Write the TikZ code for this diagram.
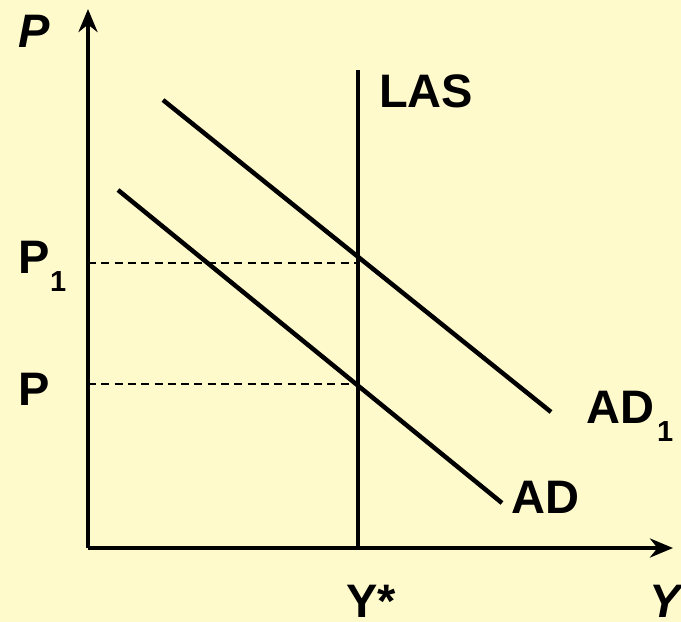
\documentclass[tikz,border=0pt]{standalone}
\usepackage{fontspec}
\setmainfont{Liberation Sans}
\usetikzlibrary{arrows.meta}
\definecolor{paper}{RGB}{255,250,204}

\begin{document}
\begin{tikzpicture}[x=1pt, y=-1pt,
    axis/.style={line width=4.5pt, -{Stealth[length=23pt, width=19pt]}},
    curve/.style={line width=4.5pt},
    guide/.style={line width=2.2pt, dash pattern=on 8pt off 5.3pt},
    lbl/.style={inner sep=0pt, anchor=base west, font=\fontsize{47}{50}\selectfont\bfseries},
    sub/.style={inner sep=0pt, anchor=base west, font=\fontsize{29}{32}\selectfont\bfseries}]
  \fill[paper] (0,0) rectangle (681,622);

  % axes
  \coordinate (O) at (88,548);
  \coordinate (ytop) at (88,9);
  \coordinate (xend) at (673,548);
  \draw[axis] (O) -- (ytop);
  \draw[axis] (O) -- (xend);

  % long-run supply
  \coordinate (lasTop) at (358,70);
  \coordinate (lasBot) at (358,548);
  \draw[curve] (lasBot) -- (lasTop);

  % demand curves
  \coordinate (ad0a) at (118,190);
  \coordinate (ad0b) at (502,503);
  \coordinate (ad1a) at (163,100);
  \coordinate (ad1b) at (551,412);
  \draw[curve] (ad0a) -- (ad0b);
  \draw[curve] (ad1a) -- (ad1b);

  % price levels
  \coordinate (p1y) at (88,263);
  \coordinate (p1x) at (358,263);
  \coordinate (p0y) at (88,384);
  \coordinate (p0x) at (358,384);
  \draw[guide] (p1y) -- (p1x);
  \draw[guide] (p0y) -- (p0x);

  % labels
  \node[lbl, font=\fontsize{47}{50}\selectfont\bfseries\itshape] (lP) at (18,47) {P};
  \node[lbl, font=\fontsize{47}{50}\selectfont\bfseries\itshape] (lY) at (649,617) {Y};
  \node[lbl] (lLAS) at (379,107) {LAS};
  \node[lbl] (lP1) at (18,273) {P};
  \node[sub] (lP1s) at (50,291) {1};
  \node[lbl] (lP0) at (18,405) {P};
  \node[lbl] (lAD1) at (586,423) {AD};
  \node[sub] (lAD1s) at (657,441) {1};
  \node[lbl] (lAD) at (511,513) {AD};
  \node[lbl] (lYs) at (346,617) {Y*};
\end{tikzpicture}
\end{document}
